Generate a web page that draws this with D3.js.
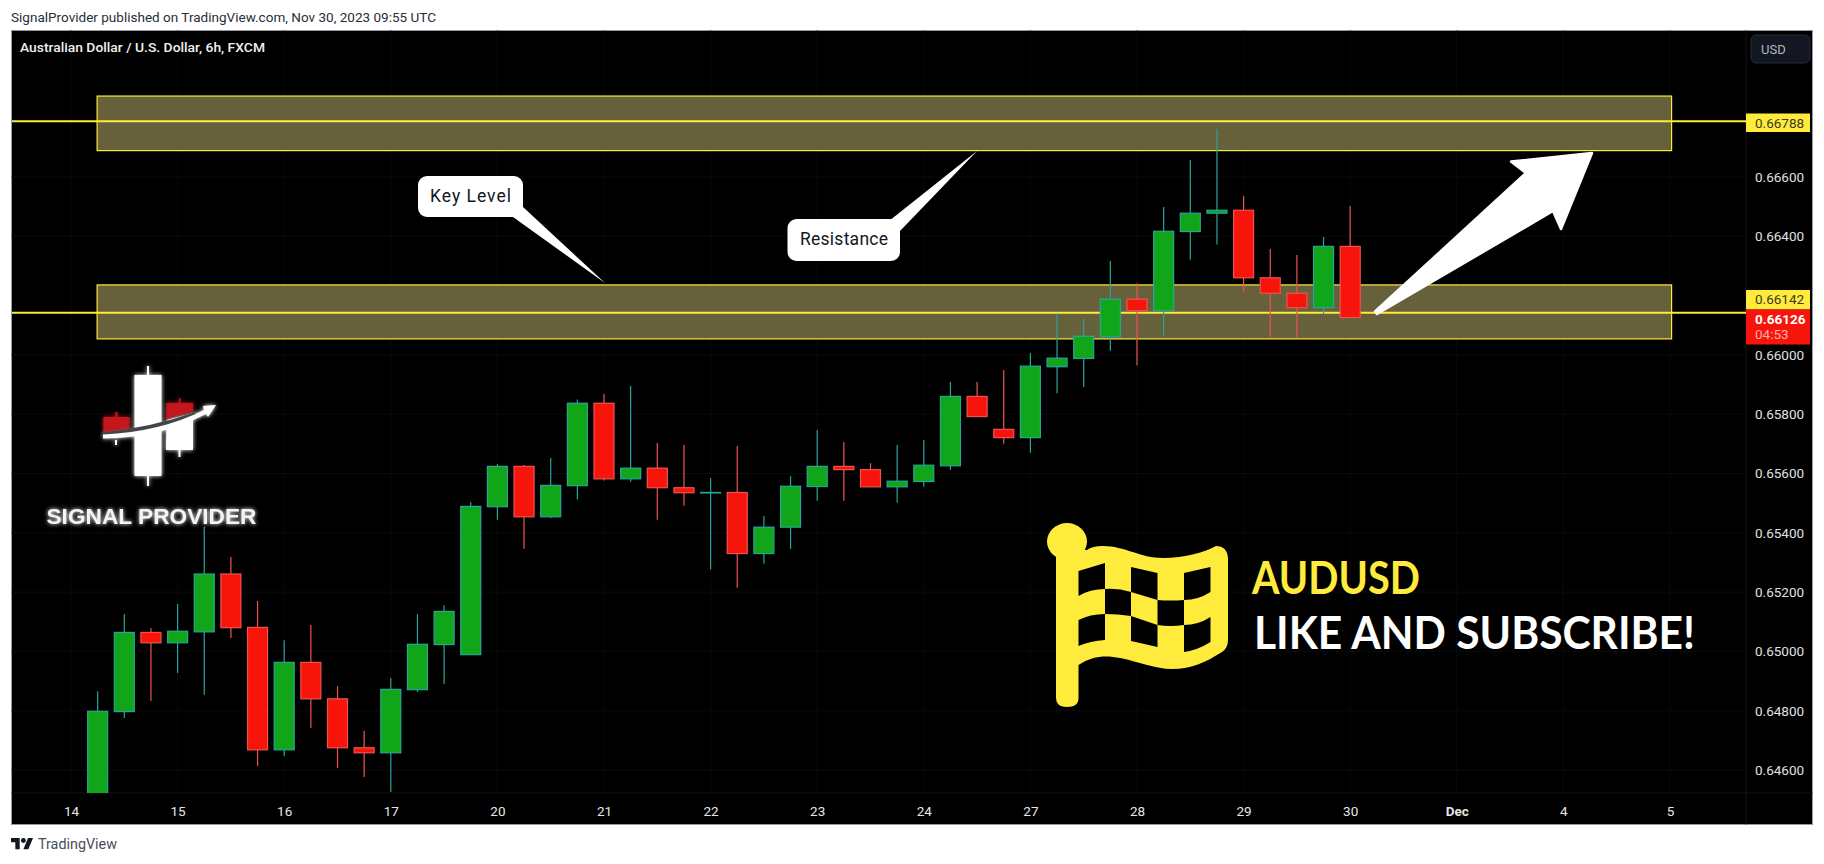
<!DOCTYPE html>
<html>
<head>
<meta charset="utf-8">
<title>AUDUSD</title>
<script src="https://cdn.jsdelivr.net/npm/d3@7"></script>
<style>
  html, body { margin: 0; padding: 0; background: #fff; }
  svg { display: block; font-family: Roboto, sans-serif; }
</style>
</head>
<body>
<div id="chart"></div>
<script>
/*************************************************************
 *  Data section.
 *************************************************************/

// 6h candles, index 0 is the "14" tick
const bar_index = d3.range(1, 49);
const bar_open = [0.64510,0.64797,0.65064,0.65029,0.65066,0.65261,0.65081,0.64668,0.64963,0.64840,0.64675,0.64658,
  0.64871,0.65023,0.64989,0.65488,0.65624,0.65454,0.65559,0.65837,0.65582,0.65618,0.65552,0.65535,
  0.65536,0.65330,0.65419,0.65556,0.65624,0.65613,0.65555,0.65573,0.65626,0.65860,0.65749,0.65721,
  0.65960,0.65988,0.66061,0.66188,0.66149,0.66416,0.66478,0.66488,0.66260,0.66208,0.66159,0.66366];
const bar_high = [0.64866,0.65126,0.65079,0.65160,0.65420,0.65318,0.65170,0.65038,0.65089,0.64883,0.64732,0.64910,
  0.65126,0.65156,0.65504,0.65632,0.65629,0.65652,0.65850,0.65868,0.65895,0.65703,0.65696,0.65585,
  0.65693,0.65457,0.65591,0.65747,0.65706,0.65635,0.65696,0.65713,0.65909,0.65909,0.65949,0.66006,
  0.66140,0.66121,0.66317,0.66242,0.66499,0.66657,0.66762,0.66536,0.66357,0.66337,0.66398,0.66502];
const bar_low = [0.64490,0.64775,0.64833,0.64927,0.64854,0.65045,0.64613,0.64647,0.64742,0.64607,0.64576,0.64526,
  0.64863,0.64890,0.64989,0.65444,0.65346,0.65450,0.65512,0.65576,0.65572,0.65444,0.65491,0.65276,
  0.65215,0.65296,0.65346,0.65508,0.65508,0.65555,0.65502,0.65555,0.65612,0.65792,0.65700,0.65670,
  0.65871,0.65892,0.66014,0.65964,0.66065,0.66321,0.66372,0.66213,0.66060,0.66058,0.66138,0.66126];
const bar_close = [0.64798,0.65064,0.65029,0.65068,0.65261,0.65080,0.64668,0.64963,0.64840,0.64675,0.64658,0.64872,
  0.65024,0.65135,0.65489,0.65624,0.65454,0.65560,0.65837,0.65582,0.65618,0.65552,0.65535,0.65536,
  0.65330,0.65419,0.65557,0.65624,0.65613,0.65555,0.65574,0.65628,0.65860,0.65792,0.65721,0.65962,
  0.65989,0.66063,0.66188,0.66149,0.66417,0.66478,0.66488,0.66260,0.66208,0.66159,0.66366,0.66126];

const day_labels = ["14","15","16","17","20","21","22","23","24","27","28","29","30","Dec","4","5"];
const day_index = [0,4,8,12,16,20,24,28,32,36,40,44,48,52,56,60];
const price_ticks = [0.646,0.648,0.650,0.652,0.654,0.656,0.658,0.660,0.664,0.666];

const level_prices = [0.66788, 0.66142];
const zone_top = [0.66873, 0.66236];
const zone_bottom = [0.66689, 0.66054];
const zone_start = 0.98;
const zone_end = 60.06;
const last_price = 0.66126;
const countdown = "04:53";

/*************************************************************
 *  Layout.
 *************************************************************/

const W = 1824, H = 864;
const panel = {left: 11.5, top: 30.5, right: 1812.5, bottom: 824.5};
const pane_right = 1746, pane_bottom = 793;

const YELLOW = "#ffeb3b";
const GREEN_FILL = "#11a61a", TEAL = "#26a69a";
const RED_FILL = "#f7140a", RED_LINE = "#ef5350";

const x = d3.scaleLinear().domain([0, 60]).range([71, 1670]);
const y = d3.scaleLinear().domain([0.646, 0.666]).range([770, 177]);

const svg = d3.select("#chart").append("svg").attr("width", W).attr("height", H);
const defs = svg.append("defs");

defs.append("clipPath").attr("id", "pane-clip").append("rect")
  .attr("x", panel.left).attr("y", panel.top)
  .attr("width", pane_right - panel.left).attr("height", pane_bottom - panel.top);

const glow = defs.append("filter").attr("id", "glow")
  .attr("x", "-20%").attr("y", "-20%").attr("width", "140%").attr("height", "140%");
glow.append("feGaussianBlur").attr("stdDeviation", 2.2).attr("result", "blur");
const glow_merge = glow.append("feMerge");
glow_merge.append("feMergeNode").attr("in", "blur");
glow_merge.append("feMergeNode").attr("in", "SourceGraphic");

/*************************************************************
 *  Page frame and texts outside the chart.
 *************************************************************/

svg.append("text").attr("x", 11).attr("y", 21.5)
  .attr("font-size", 13.4).attr("fill", "#2a2e39")
  .attr("textLength", 425).attr("lengthAdjust", "spacingAndGlyphs")
  .text("SignalProvider published on TradingView.com, Nov 30, 2023 09:55 UTC");

svg.append("rect")
  .attr("x", panel.left).attr("y", panel.top)
  .attr("width", panel.right - panel.left).attr("height", panel.bottom - panel.top)
  .attr("fill", "#000").attr("stroke", "#9598a1").attr("stroke-width", 1);

// TradingView mark
const tv_logo = svg.append("g").attr("transform", "translate(11,835.5) scale(0.62)");
tv_logo.append("path").attr("d", "M14 22H7V11H0V4h14v18zM28 22h-8l7.5-18h8L28 22z").attr("fill", "#131722");
tv_logo.append("circle").attr("cx", 20).attr("cy", 8).attr("r", 4).attr("fill", "#131722");
svg.append("text").attr("x", 38).attr("y", 849)
  .attr("font-size", 15.5).attr("fill", "#4a4e59")
  .attr("textLength", 79).attr("lengthAdjust", "spacingAndGlyphs").text("TradingView");

/*************************************************************
 *  Grid, zones, levels.
 *************************************************************/

const grid = svg.append("g").attr("stroke", "#0b0b0b").attr("stroke-width", 1);
grid.selectAll(".gx").data(day_index).join("line")
  .attr("x1", d => x(d)).attr("x2", d => x(d))
  .attr("y1", panel.top).attr("y2", pane_bottom);
grid.selectAll(".gy").data(price_ticks).join("line")
  .attr("x1", panel.left).attr("x2", pane_right)
  .attr("y1", d => y(d)).attr("y2", d => y(d));
grid.append("line").attr("x1", pane_right).attr("x2", pane_right).attr("y1", panel.top).attr("y2", panel.bottom).attr("stroke", "#141414");
grid.append("line").attr("x1", panel.left).attr("x2", panel.right).attr("y1", pane_bottom).attr("y2", pane_bottom).attr("stroke", "#141414");

svg.append("g").selectAll("rect").data(zone_top).join("rect")
  .attr("x", x(zone_start)).attr("width", x(zone_end) - x(zone_start))
  .attr("y", d => y(d))
  .attr("height", (d, i) => y(zone_bottom[i]) - y(d))
  .attr("fill", "#66603b").attr("stroke", YELLOW).attr("stroke-width", 1.2);

svg.append("g").selectAll("line").data(level_prices).join("line")
  .attr("x1", panel.left + 0.5).attr("x2", pane_right)
  .attr("y1", d => y(d)).attr("y2", d => y(d))
  .attr("stroke", YELLOW).attr("stroke-width", 2);

/*************************************************************
 *  Candles.
 *************************************************************/

const candles = bar_index.map((b, i) => ({
  b: b, o: bar_open[i], h: bar_high[i], l: bar_low[i], c: bar_close[i]
}));
const body_w = 20;

const candle = svg.append("g").attr("clip-path", "url(#pane-clip)")
  .selectAll("g").data(candles).join("g");

candle.append("line")
  .attr("x1", d => x(d.b)).attr("x2", d => x(d.b))
  .attr("y1", d => y(d.h)).attr("y2", d => y(d.l))
  .attr("stroke", d => d.c >= d.o ? TEAL : RED_LINE)
  .attr("stroke-width", 1.2);

candle.append("rect")
  .attr("x", d => x(d.b) - body_w / 2).attr("width", body_w)
  .attr("y", d => y(Math.max(d.o, d.c)))
  .attr("height", d => Math.max(0.5, Math.abs(y(d.o) - y(d.c))))
  .attr("fill", d => d.c >= d.o ? GREEN_FILL : RED_FILL)
  .attr("stroke", d => d.c >= d.o ? TEAL : RED_LINE)
  .attr("stroke-width", 1.2);

/*************************************************************
 *  Axes.
 *************************************************************/

const x_axis = svg.append("g").attr("transform", `translate(0,${pane_bottom})`)
  .call(d3.axisBottom(x).tickValues(day_index).tickSize(0).tickPadding(13)
    .tickFormat((d, i) => day_labels[i]));
x_axis.select(".domain").remove();
x_axis.selectAll("text")
  .attr("font-family", "Roboto, sans-serif").attr("font-size", 13.5).attr("fill", "#e6e6e6")
  .attr("font-weight", (d, i) => day_labels[i] === "Dec" ? 700 : 400);

const y_axis = svg.append("g").attr("transform", `translate(${pane_right},0)`)
  .call(d3.axisRight(y).tickValues(price_ticks).tickSize(0).tickPadding(9)
    .tickFormat(d3.format(".5f")));
y_axis.select(".domain").remove();
y_axis.selectAll("text")
  .attr("font-family", "Roboto, sans-serif").attr("font-size", 13.5).attr("fill", "#e0e0e0");

/**
 * Draws a price tag on the axis.
 */
function draw_tag(top, h, fill, color, label, weight){
  svg.append("rect").attr("x", pane_right).attr("y", top)
    .attr("width", 64).attr("height", h).attr("fill", fill);
  svg.append("text").attr("x", pane_right + 9).attr("y", top + 14)
    .attr("font-size", 13.5).attr("font-weight", weight).attr("fill", color).text(label);
}

draw_tag(113.5, 18.5, YELLOW, "#3a3a20", d3.format(".5f")(level_prices[0]), 400);
draw_tag(290, 19.5, YELLOW, "#3a3a20", d3.format(".5f")(level_prices[1]), 400);
draw_tag(309.5, 35, RED_FILL, "#fff", d3.format(".5f")(last_price), 700);
svg.append("text").attr("x", pane_right + 9).attr("y", 339)
  .attr("font-size", 13.5).attr("fill", "#ffb0a8").text(countdown);

// currency button
svg.append("rect").attr("x", 1751).attr("y", 35).attr("width", 59).attr("height", 28).attr("rx", 5)
  .attr("fill", "#131722").attr("stroke", "#262a35");
svg.append("text").attr("x", 1761).attr("y", 54).attr("font-size", 13)
  .attr("fill", "#b2b5be").text("USD");

svg.append("text").attr("x", 20).attr("y", 51.5)
  .attr("font-size", 13.4).attr("font-weight", 500).attr("fill", "#f0f0f0")
  .attr("textLength", 245).attr("lengthAdjust", "spacingAndGlyphs")
  .text("Australian Dollar / U.S. Dollar, 6h, FXCM");

/*************************************************************
 *  Drawings on top of the chart.
 *************************************************************/

/**
 * Rounded callout with a pointer.
 */
function draw_callout(label, box, tail, text_x, text_y, text_w){
  svg.append("path").attr("fill", "#fff")
    .attr("d", `M${tail[0]}L${tail[1]}L${tail[2]}Z`);
  svg.append("rect").attr("x", box[0]).attr("y", box[1])
    .attr("width", box[2] - box[0]).attr("height", box[3] - box[1])
    .attr("rx", 9).attr("fill", "#fff");
  svg.append("text").attr("x", text_x).attr("y", text_y)
    .attr("font-size", 17.5).attr("fill", "#131722")
    .attr("textLength", text_w).attr("lengthAdjust", "spacing").text(label);
}

draw_callout("Key Level", [418, 176, 523, 217], [[513, 217], [523, 207], [605, 283]], 430, 202, 81);
draw_callout("Resistance", [787.5, 219, 900, 261], [[889, 221], [900, 231], [977, 151]], 800, 245, 88);

// big white arrow
svg.append("path")
  .attr("d", "M1375 311.5L1526 173L1511 161.5L1592 153L1561 229L1553 211L1377 314Z")
  .attr("fill", "#fff").attr("stroke", "#fff").attr("stroke-width", 2.5).attr("stroke-linejoin", "round");

/*************************************************************
 *  Watermarks: flag with text, logo.
 *************************************************************/

const flag = svg.append("g");
flag.append("ellipse").attr("cx", 1067).attr("cy", 541.5).attr("rx", 20).attr("ry", 18.5).attr("fill", YELLOW);
flag.append("path").attr("fill", YELLOW)
  .attr("d", "M1056 548 L1056 698 Q1056 707 1067 707 Q1078.5 707 1078.5 698 L1078.5 665 C1092 656 1105 655 1120 658 C1140 662 1155 669 1172 669 C1192 669 1206 662 1222 652 Q1228 648 1228 640 L1228 558 Q1227 546 1216 546 C1205 552 1185 558 1163 558 C1140 558 1125 546 1103 546 Q1092 546 1087 550 Z");
const checker = [
  "M1078.5 571 L1105 563 L1105 589 Q1090 589 1078.5 596 Z",
  "M1131 567 L1157.5 573 L1157.5 600 L1131 592 Z",
  "M1184 573 L1210.5 567 L1210.5 592 Q1198 600 1184 600 Z",
  "M1105 589 Q1118 588 1131 592 L1131 616 Q1118 614 1105 614 Z",
  "M1157.5 600 Q1170 601 1184 600 L1184 625 Q1170 627 1157.5 625 Z",
  "M1078.5 620 Q1090 614 1105 614 L1105 640 Q1090 641 1078.5 646 Z",
  "M1131 616 L1157.5 625 L1157.5 647 L1131 641 Z",
  "M1184 625 Q1198 625 1210.5 617 L1210.5 642 Q1198 650 1184 652 Z"
];
flag.selectAll(".sq").data(checker).join("path").attr("d", d => d).attr("fill", "#000");

svg.append("text").attr("x", 1252).attr("y", 594)
  .attr("font-family", "Lato, sans-serif").attr("font-weight", 700)
  .attr("font-size", 45).attr("fill", YELLOW)
  .attr("textLength", 168).attr("lengthAdjust", "spacingAndGlyphs").text("AUDUSD");
svg.append("text").attr("x", 1254).attr("y", 649)
  .attr("font-family", "Lato, sans-serif").attr("font-weight", 700)
  .attr("font-size", 45).attr("fill", "#fff")
  .attr("textLength", 441).attr("lengthAdjust", "spacingAndGlyphs").text("LIKE AND SUBSCRIBE!");

const logo = svg.append("g").attr("filter", "url(#glow)");
function logo_path(d, fill){ logo.append("path").attr("d", d).attr("fill", fill); }
// whites first, wicks included
logo_path("M147 366h2v9h12.5v101h-12.5v10h-2v-10h-12.5v-101h12.5z", "#fff");
logo_path("M166.5 420L193 413v37h-12.5v7h-2v-7h-12.5z", "#fff");
logo_path("M115 440h2v5h-2z", "#fff");
// red candles
logo_path("M103.5 417h12v-5h2v5h12v11L103.5 432z", "#c4161f");
logo_path("M166.5 403h12.5v-5h1.5v5H193V411L166.5 419z", "#c4161f");
// dark band and rising arrow
logo_path("M103 432Q150 428 195 412L196 418Q150 436 103 438Z", "#44454a");
logo_path("M103 434.5Q160 432 204 410L203 406L216 405L208 417L206 414Q160 438 103 438.5Z", "#fff");

svg.append("text").attr("x", 46.5).attr("y", 524)
  .attr("font-family", "'Liberation Sans', sans-serif").attr("font-weight", 700)
  .attr("font-size", 22).attr("fill", "#f4f4f4").attr("filter", "url(#glow)")
  .attr("textLength", 210).attr("lengthAdjust", "spacingAndGlyphs")
  .text("SIGNAL PROVIDER");
</script>
</body>
</html>
